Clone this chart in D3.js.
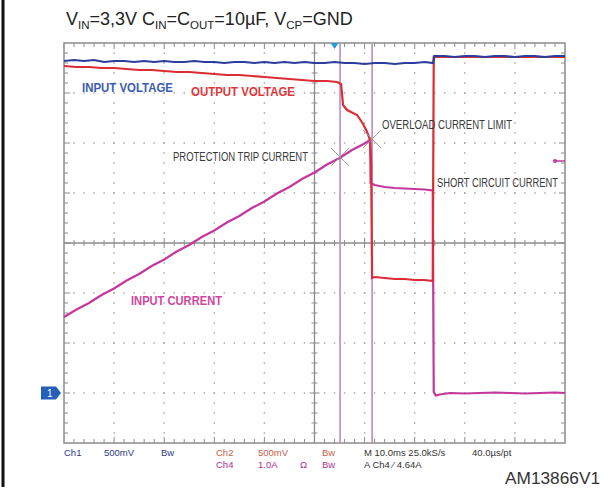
<!DOCTYPE html>
<html><head><meta charset="utf-8">
<script src="https://cdn.jsdelivr.net/npm/d3@7"></script>
<style>body{margin:0;background:#fff}svg{display:block}</style>
</head><body>
<svg id="c" width="608" height="491"></svg>
<script>
// ---- data (time in ms across 10 div x 10 ms) ----
const inputVoltage = [[0,3.32],[2,3.33],[4,3.32],[6,3.33],[8,3.31],[10,3.32],[12,3.32],[14,3.31],[16,3.32],[18,3.31],[20,3.32],[22,3.31],[24,3.31],[26,3.32],[28,3.31],[30,3.31],[32,3.30],[34,3.31],[36,3.31],[38,3.30],[40,3.31],[42,3.30],[44,3.31],[46,3.30],[48,3.31],[50,3.30],[52,3.30],[54,3.31],[56,3.30],[58,3.30],[60,3.29],[62,3.30],[64,3.30],[66,3.29],[68,3.30],[70,3.30],[72,3.31],[73.7,3.30],[73.9,3.37],[76,3.37],[78,3.36],[80,3.37],[82,3.37],[84,3.36],[86,3.37],[88,3.37],[90,3.36],[92,3.37],[94,3.37],[96,3.36],[98,3.37],[100,3.37]];
const outputVoltage = [[0,3.27],[2.5,3.26],[5,3.26],[7.5,3.25],[10,3.25],[12.5,3.24],[15,3.23],[17.5,3.23],[20,3.22],[22.5,3.21],[25,3.21],[27.5,3.20],[30,3.19],[32.5,3.18],[35,3.18],[37.5,3.17],[40,3.16],[42.5,3.15],[45,3.14],[47.5,3.13],[50,3.12],[52.5,3.12],[54.5,3.11],[55.3,3.09],[55.7,2.88],[56.5,2.83],[58.5,2.78],[59.7,2.69],[60.5,2.61],[61.1,2.53],[61.3,2.30],[61.5,1.15],[62,1.16],[64,1.15],[66,1.14],[68,1.14],[70,1.13],[72,1.13],[73.6,1.12],[73.8,3.36],[100,3.36]];
const inputCurrent = [[0,1.52],[2.5,1.67],[5,1.80],[7.5,1.96],[10,2.09],[12.5,2.25],[15,2.38],[17.5,2.54],[20,2.67],[22.5,2.83],[25,2.96],[27.5,3.12],[30,3.25],[32.5,3.41],[35,3.54],[37.5,3.70],[40,3.83],[42.5,3.99],[45,4.12],[47.5,4.28],[50,4.41],[52.5,4.57],[55,4.70],[57.5,4.86],[60,4.99],[61.1,5.06],[61.2,4.20],[62,4.16],[63,4.14],[64,4.12],[66,4.10],[68,4.09],[70,4.08],[72,4.07],[73.6,4.05],[73.8,0.02],[74.2,-0.05],[75,-0.03],[77,0.00],[80,-0.01],[83,0.00],[86,0.01],[89,0.00],[92,-0.01],[95,0.00],[98,0.01],[100,0.00]];
const cursorTimes = [55.1, 61.5];
const crossMarks = [[55.1, 4.72],[61.5, 5.08]];
const triggerTime = 54;
const triggerLevel = 4.64;
const ch1Ground = 0;
const statusRow1 = [["Ch1","#2a3a88"],["500mV","#2a3a88"],["Bw","#2a3a88"],["Ch2","#c8604a"],["500mV","#c8604a"],["Bw","#c8604a"],["M 10.0ms 25.0kS/s","#333"],["40.0µs/pt","#333"]];
const statusRow2 = [["Ch4","#b0308e"],["1.0A","#b0308e"],["Ω","#b0308e"],["Bw","#b0308e"],["A  Ch4  ⁄  4.64A","#333"]];

// ---- scales ----
const L=64,R=565,T=43,B=443;
const svg=d3.select("#c");
const x=d3.scaleLinear().domain([0,100]).range([L,R]);
const xDiv=d3.scaleLinear().domain([0,10]).range([L,R]);
const yDiv=d3.scaleLinear().domain([-4,4]).range([B,T]);
const yV=d3.scaleLinear().domain([-0.5,3.5]).range([B,T]);
const yA=d3.scaleLinear().domain([-1,7]).range([B,T]);

// left border
svg.append("line").attr("x1",3).attr("x2",3).attr("y1",0).attr("y2",487).attr("stroke","#111").attr("stroke-width",3);

// title
const title=svg.append("text").attr("x",66).attr("y",25).attr("font-family","Liberation Sans, Arial, sans-serif").attr("font-size",18).attr("fill","#222");
const parts=[["V",0],["IN",1],["=3,3V C",0],["IN",1],["=C",0],["OUT",1],["=10µF, V",0],["CP",1],["=GND",0]];
let prevSub=0;
parts.forEach(([s,sub])=>{
  const t=title.append("tspan").text(s);
  if(sub){t.attr("font-size",11.5).attr("dy",prevSub?0:3.5);} else {t.attr("dy",prevSub?-3.5:0);}
  prevSub=sub;
});

// grid dots
const g=svg.append("g");
const gridC="#a8a8a8";
for(let i=1;i<10;i++){ if(i===5)continue;
  for(let k=1;k<40;k++){ g.append("rect").attr("x",xDiv(i)-0.75).attr("y",T+k*10-0.75).attr("width",1.5).attr("height",1.5).attr("fill",gridC); } }
for(let j=-3;j<=3;j++){ if(j===0)continue;
  for(let k=1;k<50;k++){ g.append("rect").attr("x",L+k*10.02-0.75).attr("y",yDiv(j)-0.75).attr("width",1.5).attr("height",1.5).attr("fill",gridC); } }
// center axes
const axC="#8c8c8c";
g.append("line").attr("x1",L).attr("x2",R).attr("y1",yDiv(0)).attr("y2",yDiv(0)).attr("stroke",axC).attr("stroke-width",1.3);
g.append("line").attr("x1",xDiv(5)).attr("x2",xDiv(5)).attr("y1",T).attr("y2",B).attr("stroke",axC).attr("stroke-width",1.3);
for(let k=1;k<50;k++){ const xx=L+k*10.02, big=k%5===0;
  g.append("line").attr("x1",xx).attr("x2",xx).attr("y1",yDiv(0)-(big?5:3)).attr("y2",yDiv(0)+(big?5:3)).attr("stroke",axC);
  g.append("line").attr("x1",xx).attr("x2",xx).attr("y1",T).attr("y2",T+(big?6:4)).attr("stroke",axC);
  g.append("line").attr("x1",xx).attr("x2",xx).attr("y1",B).attr("y2",B-(big?6:4)).attr("stroke",axC);
}
for(let k=1;k<40;k++){ const yy=T+k*10, big=k%5===0;
  g.append("line").attr("y1",yy).attr("y2",yy).attr("x1",xDiv(5)-(big?5:3)).attr("x2",xDiv(5)+(big?5:3)).attr("stroke",axC);
  g.append("line").attr("y1",yy).attr("y2",yy).attr("x1",L).attr("x2",L+(big?6:4)).attr("stroke",axC);
  g.append("line").attr("y1",yy).attr("y2",yy).attr("x1",R).attr("x2",R-(big?6:4)).attr("stroke",axC);
}
g.append("rect").attr("x",L).attr("y",T).attr("width",R-L).attr("height",B-T).attr("fill","none").attr("stroke",axC).attr("stroke-width",1.5);

// cursors
cursorTimes.forEach(t=>svg.append("line").attr("x1",x(t)).attr("x2",x(t)).attr("y1",T+1).attr("y2",B).attr("stroke","#b88ccc").attr("stroke-width",1.6));

// traces
const line=(ys)=>d3.line().x(d=>x(d[0])).y(d=>ys(d[1]));
svg.append("path").datum(inputCurrent).attr("d",line(yA)).attr("fill","none").attr("stroke","#c4379c").attr("stroke-width",2.2);
svg.append("path").datum(outputVoltage).attr("d",line(yV)).attr("fill","none").attr("stroke","#dc2d35").attr("stroke-width",2.2);
svg.append("path").datum(inputVoltage).attr("d",line(yV)).attr("fill","none").attr("stroke","#2c3e9c").attr("stroke-width",2.2);

// cross marks
crossMarks.forEach(([t,a])=>{const cx=x(t),cy=yA(a),s=9;
  svg.append("path").attr("d",`M${cx-s},${cy-s}L${cx+s},${cy+s}M${cx-s},${cy+s}L${cx+s},${cy-s}`).attr("stroke","#999").attr("stroke-width",1);});

// trigger marker (top)
const tx=x(triggerTime);
svg.append("path").attr("d",`M${tx-4},${T}L${tx+4},${T}L${tx},${T+6}Z`).attr("fill","#2a9ad6");
// trigger level marker (right)
const ty=yA(triggerLevel);
svg.append("line").attr("x1",R-10).attr("x2",R).attr("y1",ty).attr("y2",ty).attr("stroke","#c4379c").attr("stroke-width",1.5);
svg.append("circle").attr("cx",R-10).attr("cy",ty).attr("r",2).attr("fill","#c4379c");
// ch1 ground marker
const gy=yV(ch1Ground);
svg.append("path").attr("d",`M41,${gy-6.5}L56,${gy-6.5}L61,${gy}L56,${gy+6.5}L41,${gy+6.5}Z`).attr("fill","#2460b8");
svg.append("text").attr("x",47).attr("y",gy+3.5).attr("font-family","Liberation Sans, Arial").attr("font-size",10).attr("fill","#fff").text("1");

// annotations
const ann=[
 {t:"INPUT VOLTAGE",x:82,y:92,w:91,c:"#3b5cb0",b:true},
 {t:"OUTPUT VOLTAGE",x:191,y:96,w:104,c:"#e0363a",b:true},
 {t:"PROTECTION TRIP CURRENT",x:173,y:161,w:135,c:"#3a3a3a",b:false},
 {t:"OVERLOAD CURRENT LIMIT",x:382,y:129,w:130,c:"#3a3a3a",b:false},
 {t:"SHORT CIRCUIT CURRENT",x:437,y:187,w:121,c:"#3a3a3a",b:false},
 {t:"INPUT CURRENT",x:131,y:305,w:91,c:"#d0469e",b:true}
];
ann.forEach(a=>svg.append("text").attr("x",a.x).attr("y",a.y).attr("font-family","Liberation Sans, Arial, sans-serif").attr("font-size",12).attr("font-weight",a.b?"bold":"normal").attr("fill",a.c).attr("textLength",a.w).attr("lengthAdjust","spacingAndGlyphs").text(a.t));

// status text
const row1X=[64,104,161,216,258,322,364,472];
statusRow1.forEach(([s,c],i)=>svg.append("text").attr("x",row1X[i]).attr("y",456).attr("font-family","Liberation Sans, Arial").attr("font-size",9.5).attr("fill",c).text(s));
const row2X=[216,258,300,322,364];
statusRow2.forEach(([s,c],i)=>svg.append("text").attr("x",row2X[i]).attr("y",468).attr("font-family","Liberation Sans, Arial").attr("font-size",9.5).attr("fill",c).text(s));
svg.append("text").attr("x",505).attr("y",484).attr("font-family","Liberation Sans, Arial").attr("font-size",16).attr("fill","#333").attr("textLength",95).attr("lengthAdjust","spacingAndGlyphs").text("AM13866V1");
</script>
</body></html>
